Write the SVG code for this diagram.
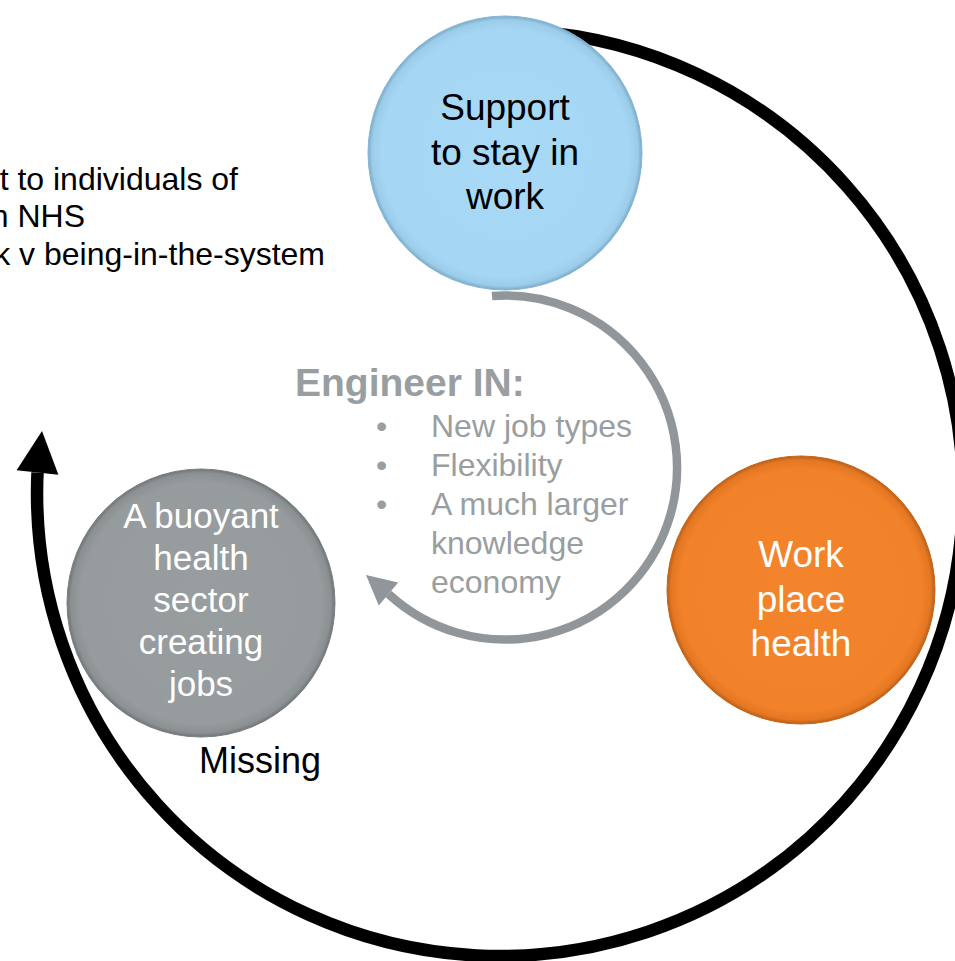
<svg xmlns="http://www.w3.org/2000/svg" width="955" height="961" viewBox="0 0 955 961">
<style>
  .t { font-family: "Liberation Sans", Arial, Helvetica, sans-serif; }
  .blk { fill: #000000; }
  .wht { fill: #ffffff; }
  .gry { fill: #999ea0; }
  .big { font-size: 32px; }
  .node { font-size: 37px; text-anchor: middle; }
  .list { font-size: 32px; }
  .black-arc { fill: none; stroke: #000000; stroke-width: 12.5; }
  .gray-arc { fill: none; stroke: #91969a; stroke-width: 8.5; }
</style>
<defs>
  <radialGradient id="gBlue" cx="0.5" cy="0.5" r="0.5">
    <stop offset="0" stop-color="#a8d9f6"/>
    <stop offset="0.9" stop-color="#a5d7f4"/>
    <stop offset="0.97" stop-color="#9bcdea"/>
    <stop offset="1" stop-color="#7aaac6"/>
  </radialGradient>
  <radialGradient id="gGray" cx="0.5" cy="0.5" r="0.5">
    <stop offset="0" stop-color="#989d9f"/>
    <stop offset="0.9" stop-color="#969b9d"/>
    <stop offset="0.97" stop-color="#8b9092"/>
    <stop offset="1" stop-color="#6f7476"/>
  </radialGradient>
  <radialGradient id="gOrange" cx="0.5" cy="0.5" r="0.5">
    <stop offset="0" stop-color="#f3842b"/>
    <stop offset="0.9" stop-color="#f2822a"/>
    <stop offset="0.97" stop-color="#e47722"/>
    <stop offset="1" stop-color="#b85e1a"/>
  </radialGradient>
</defs>

<g id="connectors">
  <path class="black-arc" d="M 530 31 A 463 463 0 1 1 37.5 472.5"/>
  <polygon fill="#000000" points="16.6,470.2 42,431 58.4,474.8"/>
  <path class="gray-arc" d="M 492 296 A 172 172 0 1 1 388.5 594"/>
  <polygon fill="#91969a" points="398.2,582.5 366,575 378.8,605.5"/>
</g>

<g id="top-left-text" class="t blk big" text-anchor="end">
  <text x="238" y="190">t to individuals of</text>
  <text x="85" y="227">n NHS</text>
  <text x="325" y="265">k v being-in-the-system</text>
</g>

<g id="node-support">
  <circle cx="505" cy="153" r="137" fill="url(#gBlue)" stroke="#86b6d2" stroke-width="1"/>
  <text class="t blk node" x="505" y="120">Support</text>
  <text class="t blk node" x="505" y="165">to stay in</text>
  <text class="t blk node" x="505" y="209">work</text>
</g>

<g id="node-workplace">
  <circle cx="801" cy="590" r="134" fill="url(#gOrange)" stroke="#c66619" stroke-width="1"/>
  <text class="t wht node" x="801" y="567">Work</text>
  <text class="t wht node" x="801" y="612">place</text>
  <text class="t wht node" x="801" y="656">health</text>
</g>

<g id="node-buoyant">
  <circle cx="201" cy="603" r="134" fill="url(#gGray)" stroke="#7b8082" stroke-width="1"/>
  <text class="t wht node" style="font-size:35px" x="201" y="528">A buoyant</text>
  <text class="t wht node" style="font-size:35px" x="201" y="570">health</text>
  <text class="t wht node" style="font-size:35px" x="201" y="612">sector</text>
  <text class="t wht node" style="font-size:35px" x="201" y="654">creating</text>
  <text class="t wht node" style="font-size:35px" x="201" y="696">jobs</text>
</g>

<g id="label-missing">
  <text class="t blk" style="font-size:36px" x="199" y="773">Missing</text>
</g>

<g id="engineer-in" class="t gry">
  <text x="295" y="396" style="font-size:39px;font-weight:bold">Engineer IN:</text>
  <g class="list">
    <text x="376" y="437">•</text>
    <text x="376" y="476">•</text>
    <text x="376" y="515">•</text>
    <text x="431" y="437">New job types</text>
    <text x="431" y="476">Flexibility</text>
    <text x="431" y="515">A much larger</text>
    <text x="431" y="554">knowledge</text>
    <text x="431" y="593">economy</text>
  </g>
</g>
</svg>
